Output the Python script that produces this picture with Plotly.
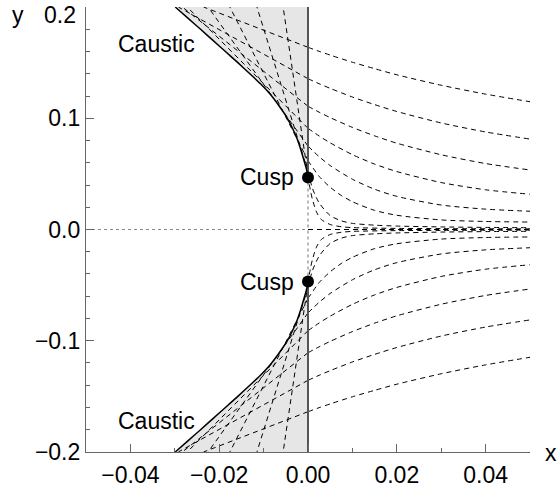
import plotly.graph_objects as go

# ---------------- data ----------------
cusp_y = 0.0468

# upper caustic branch, from the cusp up to the top edge (lower branch is the mirror)
caustic_y = [0.0468, 0.050, 0.055, 0.064, 0.073, 0.082, 0.091, 0.100, 0.111, 0.122,
             0.131, 0.140, 0.150, 0.160, 0.170, 0.180, 0.190, 0.200]
caustic_x = [0.0, -0.00012, -0.0004, -0.00105, -0.00172, -0.0025, -0.0035, -0.00465,
             -0.0065, -0.0086, -0.0107, -0.0131, -0.0158, -0.0186, -0.0214, -0.0242,
             -0.02705, -0.0299]

# rays for x >= 0 (upper half), one list of (x, y) samples per ray
ray_a_x = [0.0, 0.0025, 0.005, 0.01, 0.015, 0.02, 0.03, 0.04, 0.05]
ray_a_y = [0.1638, 0.1602, 0.1568, 0.1504, 0.1446, 0.1391, 0.1297, 0.1217, 0.1149]
ray_b_x = [0.0, 0.0025, 0.005, 0.01, 0.015, 0.02, 0.03, 0.04, 0.05]
ray_b_y = [0.1356, 0.1311, 0.1269, 0.1191, 0.1123, 0.1061, 0.0958, 0.0877, 0.0813]
ray_c_x = [0.0, 0.0025, 0.005, 0.01, 0.015, 0.02, 0.03, 0.04, 0.05]
ray_c_y = [0.1108, 0.1055, 0.1006, 0.0918, 0.0842, 0.0776, 0.0672, 0.0593, 0.0535]
ray_d_x = [0.0, 0.0025, 0.005, 0.01, 0.015, 0.02, 0.03, 0.04, 0.05]
ray_d_y = [0.0910, 0.0841, 0.0779, 0.0673, 0.0588, 0.0521, 0.0422, 0.0357, 0.0317]
ray_e_x = [0.0, 0.0025, 0.005, 0.01, 0.015, 0.02, 0.03, 0.04, 0.05]
ray_e_y = [0.0750, 0.0655, 0.0575, 0.0452, 0.0362, 0.0298, 0.0220, 0.0183, 0.0164]
ray_f_x = [0.0, 0.0025, 0.005, 0.0075, 0.01, 0.015, 0.02, 0.03, 0.04, 0.05]
ray_f_y = [0.0620, 0.0478, 0.0380, 0.0306, 0.0250, 0.0172, 0.0128, 0.0086, 0.0072, 0.0067]
ray_g_x = [0.0, 0.001, 0.0025, 0.005, 0.0075, 0.01, 0.015, 0.02, 0.03, 0.04, 0.05]
ray_g_y = [0.0520, 0.0370, 0.0240, 0.0125, 0.0078, 0.0055, 0.0039, 0.0031, 0.0023, 0.0019, 0.0016]
ray_h_x = [0.0, 0.0005, 0.001, 0.002, 0.003, 0.005, 0.0075, 0.01, 0.02, 0.03, 0.05]
ray_h_y = [0.0485, 0.0360, 0.0270, 0.0150, 0.0090, 0.0045, 0.0025, 0.0017, 0.0010, 0.0008, 0.0006]

rays_x = [ray_a_x, ray_b_x, ray_c_x, ray_d_x, ray_e_x, ray_f_x, ray_g_x, ray_h_x]
rays_y = [ray_a_y, ray_b_y, ray_c_y, ray_d_y, ray_e_y, ray_f_y, ray_g_y, ray_h_y]

# straight continuation of each ray for x < 0: where it leaves the top edge
ray_exit_x = [-0.0235, -0.0292, -0.0283, -0.0272, -0.0225, -0.0176, -0.0115, -0.0056]
ray_exit_y = [0.2, 0.2, 0.2, 0.2, 0.2, 0.2, 0.2, 0.2]

x_range = [-0.05, 0.05]
y_range = [-0.20005, 0.20005]
x_ticks = [-0.04, -0.02, 0.0, 0.02, 0.04]
y_ticks = [-0.2, -0.1, 0.0, 0.1, 0.2]
y_tick_labels = ["\u22120.2", "\u22120.1", "0.0", "0.1", "0.2"]

FONT = "Liberation Sans, Arial, sans-serif"
FS = 23
DASH = "5px,4px"

fig = go.Figure()

for s in (1, -1):
    cy = [s * v for v in caustic_y]
    fig.add_trace(go.Scatter(
        x=caustic_x + [0.0, 0.0], y=cy + [s * 0.2, s * cusp_y],
        mode="lines", fill="toself", fillcolor="#e6e6e6",
        line=dict(width=0, color="rgba(0,0,0,0)"), hoverinfo="skip"))

# dotted reference lines
fig.add_trace(go.Scatter(x=[-0.05, 0.0], y=[0.0, 0.0], mode="lines",
                         line=dict(color="#8a8a8a", width=1.2, dash="dot")))
fig.add_trace(go.Scatter(x=[0.0, 0.0], y=[-cusp_y, cusp_y], mode="lines",
                         line=dict(color="#8a8a8a", width=1.2, dash="dot")))
# dashed ray on the axis
fig.add_trace(go.Scatter(x=[0.0, 0.05], y=[0.0, 0.0], mode="lines",
                         line=dict(color="black", width=1, dash=DASH)))

for s in (1, -1):
    for xs, ys, ex, ey in zip(rays_x, rays_y, ray_exit_x, ray_exit_y):
        fig.add_trace(go.Scatter(
            x=xs, y=[s * v for v in ys], mode="lines",
            line=dict(color="black", width=1, dash=DASH, shape="spline", smoothing=0.7)))
        fig.add_trace(go.Scatter(
            x=[xs[0], ex], y=[s * ys[0], s * ey], mode="lines",
            line=dict(color="black", width=1, dash=DASH)))

for s in (1, -1):
    fig.add_trace(go.Scatter(x=[0.0, 0.0], y=[s * cusp_y, s * 0.2], mode="lines",
                             line=dict(color="#555", width=2)))
    fig.add_trace(go.Scatter(x=caustic_x, y=[s * v for v in caustic_y], mode="lines",
                             line=dict(color="black", width=1.5, shape="spline", smoothing=0.5)))

fig.add_trace(go.Scatter(x=[0.0, 0.0], y=[cusp_y, -cusp_y], mode="markers",
                         marker=dict(color="black", size=12)))

tfont = dict(family=FONT, size=FS, color="black")
annotations = [
    dict(x=-0.0341, y=0.1667, text="Caustic", xref="x", yref="y"),
    dict(x=-0.0341, y=-0.1726, text="Caustic", xref="x", yref="y"),
    dict(x=-0.0026, y=cusp_y, text="Cusp", xref="x", yref="y", xanchor="right"),
    dict(x=-0.0026, y=-cusp_y, text="Cusp", xref="x", yref="y", xanchor="right"),
    dict(x=-0.153, y=0.983, text="y", xref="paper", yref="paper"),
    dict(x=1.047, y=-0.003, text="x", xref="paper", yref="paper"),
    # top tick label, placed so it stays inside the page as in the reference
    dict(x=-0.019, y=1.0157, text=y_tick_labels[-1], xref="paper", yref="paper",
         xanchor="right", yanchor="top"),
]
for a in annotations:
    a.setdefault("xanchor", "center")
    a.setdefault("yanchor", "middle")
    a.update(showarrow=False, font=tfont)

axis_common = dict(showgrid=False, zeroline=False, showline=True, linecolor="#666",
                   linewidth=1.2, ticks="inside", ticklen=8, tickwidth=1, tickcolor="#666",
                   tickfont=tfont, ticklabeloverflow="allow", automargin=False)

fig.update_layout(
    width=558, height=493, showlegend=False,
    plot_bgcolor="white", paper_bgcolor="white",
    margin=dict(l=86, r=28, t=7, b=41, autoexpand=False),
    xaxis=dict(axis_common, range=x_range, tickvals=x_ticks, tickformat=".2f",
               minor=dict(dtick=0.01, tick0=-0.05, ticks="inside", ticklen=4, tickcolor="#666"),
               ticklabelstandoff=2),
    yaxis=dict(axis_common, range=y_range, tickvals=y_ticks,
               ticktext=y_tick_labels[:-1] + [""],
               minor=dict(dtick=0.02, tick0=-0.2, ticks="inside", ticklen=4, tickcolor="#666"),
               ticklabelstandoff=0),
    annotations=annotations,
)

fig.write_html("out.html", config={"displayModeBar": False},
               post_script="document.body.style.margin='0';")
